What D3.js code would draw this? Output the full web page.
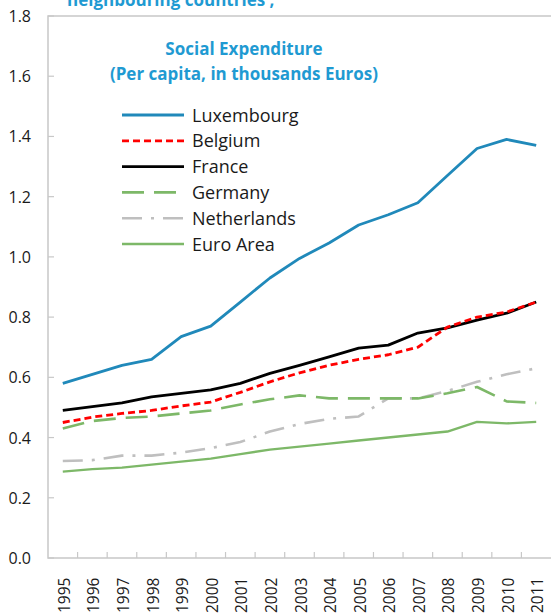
<!DOCTYPE html>
<html>
<head>
<meta charset="utf-8">
<script src="https://cdn.jsdelivr.net/npm/d3@7"></script>
<style>
  body { margin: 0; background: #fff; }
  svg { display: block; font-family: "Open Sans", "Liberation Sans", sans-serif; }
</style>
</head>
<body>
<div id="chart"></div>
<script>
const years = ["1995","1996","1997","1998","1999","2000","2001","2002","2003",
               "2004","2005","2006","2007","2008","2009","2010","2011"];
const yTicks = [0, 0.2, 0.4, 0.6, 0.8, 1.0, 1.2, 1.4, 1.6, 1.8];

const luxembourg  = [0.58, 0.61, 0.64, 0.66, 0.735, 0.77, 0.85, 0.93, 0.995, 1.046, 1.106, 1.14, 1.18, 1.27, 1.36, 1.39, 1.37];
const belgium     = [0.45, 0.468, 0.48, 0.49, 0.505, 0.518, 0.55, 0.585, 0.615, 0.64, 0.66, 0.675, 0.70, 0.767, 0.80, 0.817, 0.85];
const france      = [0.49, 0.503, 0.515, 0.535, 0.547, 0.558, 0.58, 0.613, 0.64, 0.668, 0.697, 0.707, 0.747, 0.764, 0.79, 0.813, 0.85];
const germany     = [0.43, 0.455, 0.465, 0.47, 0.48, 0.49, 0.51, 0.527, 0.54, 0.53, 0.53, 0.53, 0.53, 0.547, 0.568, 0.52, 0.515];
const netherlands = [0.322, 0.325, 0.34, 0.34, 0.35, 0.365, 0.385, 0.42, 0.445, 0.462, 0.47, 0.53, 0.53, 0.555, 0.585, 0.61, 0.63];
const euroArea    = [0.287, 0.295, 0.30, 0.31, 0.32, 0.33, 0.345, 0.36, 0.37, 0.38, 0.39, 0.40, 0.41, 0.42, 0.452, 0.447, 0.452];

const series = [
  { name: "Luxembourg",  values: luxembourg,  color: "#2089ba", width: 2.8, dash: null },
  { name: "Belgium",     values: belgium,     color: "#ff0000", width: 2.8, dash: "7,4" },
  { name: "France",      values: france,      color: "#000000", width: 2.8, dash: null },
  { name: "Germany",     values: germany,     color: "#7db868", width: 2.6, dash: "22,10" },
  { name: "Netherlands", values: netherlands, color: "#bfbfbf", width: 2.6, dash: "20,9,3,9" },
  { name: "Euro Area",   values: euroArea,    color: "#7db868", width: 2.4, dash: null }
];

const W = 551, H = 616;
const mLeft = 48, mTop = 16, mRight = 551, mBottom = 558;

const svg = d3.select("#chart").append("svg")
  .attr("width", W).attr("height", H);

const x = d3.scaleBand().domain(years).range([mLeft, mRight]);
const y = d3.scaleLinear().domain([0, 1.8]).range([mBottom, mTop]);

// frame
svg.append("path")
  .attr("d", `M${mRight},${mTop}H${mLeft}V${mBottom}H${mRight}`)
  .attr("fill", "none")
  .attr("stroke", "#c8c8c8")
  .attr("stroke-width", 1.5);

// y ticks
svg.selectAll(".ytick").data(yTicks).join("line")
  .attr("x1", mLeft).attr("x2", mLeft + 6)
  .attr("y1", d => y(d)).attr("y2", d => y(d))
  .attr("stroke", "#c8c8c8").attr("stroke-width", 1.2);

svg.selectAll(".ylab").data(yTicks).join("text")
  .attr("x", 31).attr("y", d => y(d) + 6)
  .attr("text-anchor", "end")
  .attr("font-size", 16)
  .attr("fill", "#1a1a1a")
  .text(d => d3.format(".1f")(d));

// x ticks between categories
svg.selectAll(".xtick").data(years.slice(0, -1)).join("line")
  .attr("x1", d => x(d) + x.bandwidth()).attr("x2", d => x(d) + x.bandwidth())
  .attr("y1", mBottom).attr("y2", mBottom - 6)
  .attr("stroke", "#c8c8c8").attr("stroke-width", 1.2);

svg.selectAll(".xlab").data(years).join("text")
  .attr("transform", d => `translate(${x(d) + x.bandwidth() / 2 + 7},${613}) rotate(-90)`)
  .attr("font-size", 15.5)
  .attr("fill", "#1a1a1a")
  .text(d => d);

// lines
const line = d3.line()
  .x((d, i) => x(years[i]) + x.bandwidth() / 2)
  .y(d => y(d));

svg.selectAll(".series").data(series.slice().reverse()).join("path")
  .attr("d", d => line(d.values))
  .attr("fill", "none")
  .attr("stroke", d => d.color)
  .attr("stroke-width", d => d.width)
  .attr("stroke-dasharray", d => d.dash)
  .attr("stroke-linejoin", "round");

// titles
svg.append("text")
  .attr("x", 67).attr("y", 6)
  .attr("font-size", 17).attr("font-weight", "bold")
  .attr("fill", "#1f9ad2")
  .text("neighbouring countries ,");

svg.append("text")
  .attr("x", 244).attr("y", 55)
  .attr("text-anchor", "middle")
  .attr("font-size", 17).attr("font-weight", "bold")
  .attr("fill", "#1f9ad2")
  .text("Social Expenditure");

svg.append("text")
  .attr("x", 244).attr("y", 80)
  .attr("text-anchor", "middle")
  .attr("font-size", 17).attr("font-weight", "bold")
  .attr("fill", "#1f9ad2")
  .text("(Per capita, in thousands Euros)");

// legend
const legend = svg.selectAll(".leg").data(series).join("g")
  .attr("transform", (d, i) => `translate(122,${115 + i * 25.8})`);

legend.append("line")
  .attr("x1", 0).attr("x2", 62)
  .attr("stroke", d => d.color)
  .attr("stroke-width", d => d.width)
  .attr("stroke-dasharray", d => d.dash);

legend.append("text")
  .attr("x", 70).attr("y", 6.5)
  .attr("font-size", 18)
  .attr("fill", "#1a1a1a")
  .text(d => d.name);
</script>
</body>
</html>
